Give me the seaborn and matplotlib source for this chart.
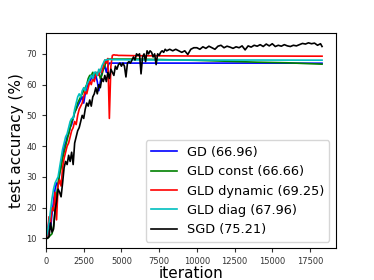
import numpy as np
import pandas as pd
import matplotlib
matplotlib.use("Agg")
import matplotlib.pyplot as plt
import seaborn as sns

# iterations shared by the four full-batch runs
rise_iters = list(range(0, 5001, 100))
tail_iters = [6000, 8000, 10000, 12000, 14000, 16000, 17000, 18300]

gd = [10, 10.5, 16, 13, 18, 22, 26, 28, 27, 31, 34, 37, 40, 41, 43, 44, 46, 47, 49, 51,
      52, 53, 54, 55, 56, 54, 57, 59, 60, 61, 62, 63, 62, 63, 61, 58, 61, 64, 65, 66,
      64, 66, 67, 67, 67, 67, 67, 67, 67, 67, 67]
gd_tail = [67.0, 67.0, 67.0, 67.0, 67.0, 66.98, 66.97, 66.96]

gld_const = [10, 10, 10.5, 11, 11.5, 14, 19, 24, 28, 31, 33, 36, 38, 40, 42, 44, 46, 48, 49, 51,
             52, 54, 55, 56, 57, 58, 59, 60, 62, 63, 63, 64, 63, 64, 63, 64, 62, 63, 65, 66,
             68, 68.3, 68.3, 68.3, 68.3, 68.3, 68.3, 68.3, 68.3, 68.3, 68.3]
gld_const_tail = [68.3, 68.1, 67.9, 67.6, 67.3, 67.1, 66.9, 66.66]

gld_dynamic = [10, 11, 17, 15, 20, 19, 25, 16, 27, 29, 27, 33, 36, 38, 40, 41, 43, 45, 46, 48,
               47, 50, 52, 53, 54, 56, 58, 57, 59, 61, 60, 62, 61, 63, 64, 63, 65, 64, 66, 68,
               67, 68.5, 49, 66, 69.5, 69.7, 69.6, 69.6, 69.5, 69.5, 69.5]
gld_dynamic_tail = [69.4, 69.35, 69.3, 69.3, 69.3, 69.28, 69.26, 69.25]

gld_diag = [10, 12, 15, 19, 23, 26, 28, 29, 30, 33, 36, 39, 41, 43, 44, 46, 48, 49, 49, 52,
            54, 56, 57, 56, 58, 59, 58, 60, 61, 62, 63, 62, 64, 64, 63, 65, 64, 66, 67, 68,
            68, 68.2, 68.2, 68.2, 68.1, 68.1, 68.1, 68.1, 68.1, 68.1, 68.1]
gld_diag_tail = [68.05, 68.0, 68.0, 68.0, 68.0, 67.98, 67.97, 67.96]

sgd_iters = list(range(0, 8001, 100)) + list(range(8200, 18201, 200)) + [18300]
sgd = [10, 10, 10.5, 15, 12, 13, 19, 22, 26, 25, 23.5, 28, 33, 35, 34, 37, 35, 38, 34, 41,
       43, 45, 46, 48, 50, 49, 52, 54, 53, 55, 53, 56, 57, 59, 57, 60, 59, 62, 61, 63,
       61, 64, 62, 65, 64, 63, 66, 65, 66.5, 67, 66,
       67, 66, 62.5, 67, 67.5, 67, 68, 69, 68, 70, 69.5, 70, 63.5, 69, 70, 67.5, 71, 70, 71, 70.5,
       69, 70, 66.5, 70, 69.5, 70.5, 71, 70.5, 71.5, 71,
       71.5, 71, 71.5, 71, 70.5, 71, 69.8, 71.5, 72, 72,
       71.5, 72.3, 71.8, 72.5, 72, 71.5, 72.5, 72.8, 72, 72.5,
       72.2, 71.8, 72.3, 72, 72.6, 71.3, 72.6, 72.2, 72.8, 72.5,
       73, 72.4, 73.2, 72.6, 73.3, 72.4, 72.8, 72.5, 73, 72.6,
       72.4, 72.8, 72.6, 73, 73.4, 73.2, 73.6, 73.3, 73.5, 72.8,
       73.3, 72.4]

labels = ["GD (66.96)", "GLD const (66.66)", "GLD dynamic (69.25)",
          "GLD diag (67.96)", "SGD (75.21)"]
colors = ["b", "g", "r", "c", "k"]

frames = []
for lab, ys in zip(labels[:4], [gd + gd_tail, gld_const + gld_const_tail,
                                 gld_dynamic + gld_dynamic_tail, gld_diag + gld_diag_tail]):
    frames.append(pd.DataFrame({"iteration": rise_iters + tail_iters, "acc": ys, "run": lab}))
frames.append(pd.DataFrame({"iteration": sgd_iters, "acc": sgd, "run": labels[4]}))
df = pd.concat(frames, ignore_index=True)

fig = plt.figure(figsize=(3.74, 2.8), dpi=100)
ax = fig.add_axes([0.123, 0.114, 0.775, 0.768])
sns.lineplot(data=df, x="iteration", y="acc", hue="run", hue_order=labels,
             palette=dict(zip(labels, colors)), linewidth=1.2, ax=ax, sort=False)
ax.set_xlim(left=0)
ax.set_xticks(np.arange(0, 17501, 2500))
ax.set_yticks(np.arange(10, 71, 10))
ax.tick_params(labelsize=6, length=3, width=0.8, colors="#333333")
ax.set_xlabel("iteration", fontsize=11, labelpad=0)
ax.set_ylabel("test accuracy (%)", fontsize=11, labelpad=2)
ax.legend(loc="lower right", fontsize=9.3)
fig.savefig("out.png", dpi=100)
